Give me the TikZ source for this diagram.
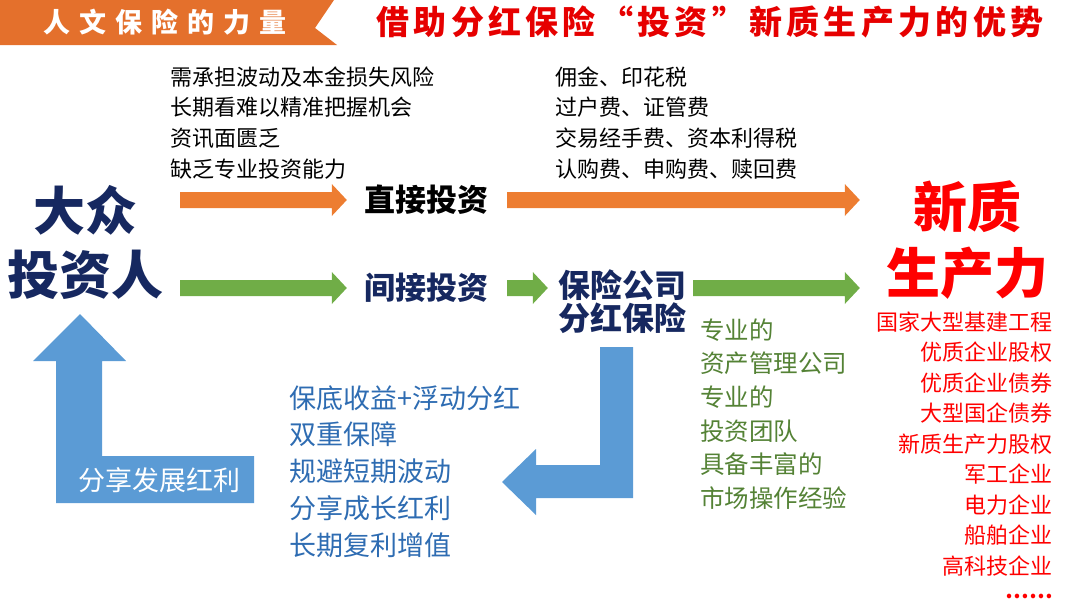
\documentclass[tikz,border=0pt]{standalone}
\usepackage{fontspec}
\setmainfont{Noto Sans CJK SC}
\usetikzlibrary{calc}
\definecolor{headorange}{RGB}{228,112,44}
\definecolor{arroworange}{RGB}{237,125,49}
\definecolor{arrowgreen}{RGB}{112,173,71}
\definecolor{arrowblue}{RGB}{91,155,213}
\definecolor{navy}{RGB}{22,40,96}
\definecolor{listblue}{RGB}{46,108,178}
\definecolor{listgreen}{RGB}{84,130,53}
\definecolor{titlered}{RGB}{230,0,0}
\newcommand{\fsz}[1]{\fontsize{#1}{#1}\selectfont}
% block arrow: colour, tail point, tip point
\newcommand{\bigarrow}[3]{%
  \fill[#1] ($(#2)+(0,-8)$) -- ($(#3)+(-15,-8)$) -- ($(#3)+(-15,-16)$) -- (#3)
    -- ($(#3)+(-15,16)$) -- ($(#3)+(-15,8)$) -- ($(#2)+(0,8)$) -- cycle;}

\begin{document}
\begin{tikzpicture}[
    x=1pt, y=-1pt,
    txt/.style={inner sep=0pt, anchor=west, font=\fsz{22}},
    midtxt/.style={inner sep=0pt, font=\bfseries\fontsize{31}{33}\selectfont, align=center},
    bigtxt/.style={inner sep=0pt, font=\bfseries\fontsize{52}{64}\selectfont, align=center}
]
\useasboundingbox (0,0) rectangle (1080,608);

% Header
\fill[headorange] (0,0) -- (334,0) -- (315,28) -- (337,45) -- (0,45) -- cycle;
\node[inner sep=0pt, text=white, font=\bfseries\fsz{27}] (brand) at (165,22)
     {\addfontfeature{LetterSpace=33}人文保险的力量};
\node[inner sep=0pt, text=titlered, font=\bfseries\fsz{33}] (title) at (710,22)
     {\addfontfeature{LetterSpace=13}借助分红保险“投资”新质生产力的优势};

% Main nodes
\node[bigtxt, text=navy] (investor) at (86,242) {大众\\投资人};
\node[midtxt] (direct) at (426,200) {直接投资};
\node[midtxt, text=navy] (indirect) at (426,288) {间接投资};
\node[midtxt, text=navy, font=\bfseries\fontsize{32}{33}\selectfont] (insurer) at (622,302) {保险公司\\分红保险};
\node[inner sep=0pt, text=red, font=\bfseries\fontsize{54}{66}\selectfont, align=center] (newprod) at (967,240) {新质\\生产力};

% Block arrows
\path ($(investor.east |- direct)+(16,0)$) coordinate (o1a)
      ($(direct.west)+(-17,0)$) coordinate (o1b)
      ($(direct.east)+(19,0)$) coordinate (o2a)
      ($(newprod.west |- direct)+(-26,0)$) coordinate (o2b)
      ($(investor.east |- indirect)+(16,0)$) coordinate (g1a)
      ($(indirect.west)+(-17,0)$) coordinate (g1b)
      ($(indirect.east)+(19,0)$) coordinate (g2a)
      ($(insurer.west |- indirect)+(-10,0)$) coordinate (g2b)
      ($(insurer.east |- indirect)+(7,0)$) coordinate (g3a)
      ($(newprod.west |- indirect)+(-26,0)$) coordinate (g3b);
\bigarrow{arroworange}{o1a}{o1b}
\bigarrow{arroworange}{o2a}{o2b}
\bigarrow{arrowgreen}{g1a}{g1b}
\bigarrow{arrowgreen}{g2a}{g2b}
\bigarrow{arrowgreen}{g3a}{g3b}

% Return arrows
\fill[arrowblue] (80,314) -- (126,361) -- (102,361) -- (102,456) -- (254,456)
     -- (254,503) -- (56,503) -- (56,361) -- (33,361) -- cycle;
\node[inner sep=0pt, text=white, font=\fsz{27}] (share) at (159,480) {分享发展红利};
\fill[arrowblue] (600,347) -- (633,347) -- (633,498) -- (536,498) -- (536,515)
     -- (502,482) -- (536,449) -- (536,465) -- (600,465) -- cycle;

% Text lists
\foreach \t [count=\i from 0] in {需承担波动及本金损失风险, 长期看难以精准把握机会, 资讯面匮乏, 缺乏专业投资能力}
  \node[txt] (risk\i) at (170,77+30.6*\i) {\t};
\foreach \t [count=\i from 0] in {佣金、印花税, 过户费、证管费, 交易经手费、资本利得税, 认购费、申购费、赎回费}
  \node[txt] (fee\i) at (555,77+30.6*\i) {\t};
\foreach \t [count=\i from 0] in {保底收益+浮动分红, 双重保障, 规避短期波动, 分享成长红利, 长期复利增值}
  \node[txt, text=listblue, font=\fsz{27}] (gain\i) at (289,398+36.7*\i) {\t};
\foreach \t [count=\i from 0] in {专业的, 资产管理公司, 专业的, 投资团队, 具备丰富的, 市场操作经验}
  \node[txt, text=listgreen, font=\fsz{24.5}] (team\i) at (700,330+33.6*\i) {\t};
\foreach \t [count=\i from 0] in {国家大型基建工程, 优质企业股权, 优质企业债券, 大型国企债券, 新质生产力股权, 军工企业, 电力企业, 船舶企业, 高科技企业}
  \node[txt, anchor=east, text=red, font=\fsz{22}] (sector\i) at (1053,322+30.5*\i) {\t};
\node[txt, anchor=east, text=red, font=\bfseries\fsz{21}] (more) at (1053,596) {……};

\end{tikzpicture}
\end{document}
